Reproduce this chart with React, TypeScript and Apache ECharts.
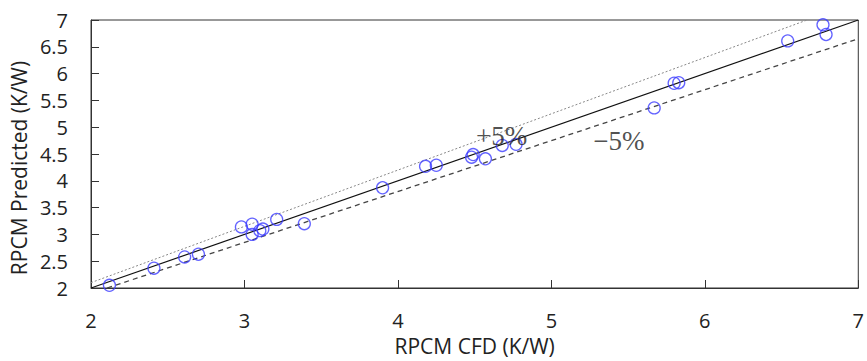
import React, { useEffect, useRef } from "react";
import * as echarts from "echarts";

const cfdValues = [2.12, 2.41, 2.61, 2.70, 2.98, 3.05, 3.05, 3.10, 3.12, 3.21, 3.39, 3.90, 4.18, 4.25, 4.48, 4.49, 4.57, 4.68, 4.77, 5.67, 5.80, 5.83, 6.54, 6.77, 6.79];
const predictedValues = [2.05, 2.37, 2.58, 2.63, 3.14, 3.19, 3.00, 3.07, 3.10, 3.28, 3.20, 3.87, 4.27, 4.29, 4.44, 4.49, 4.41, 4.66, 4.68, 5.36, 5.82, 5.83, 6.61, 6.91, 6.73];
const parityLine = [[2, 2], [7, 7]];
const plusFiveLine = [[2, 2.1], [6.6667, 7]];
const minusFiveLine = [[2.1053, 2], [7, 6.65]];
const annotations = [
  { name: "+5%", value: [4.675, 4.83] },
  { name: "\u22125%", value: [5.44, 4.74] },
];
const xTicks = [2, 3, 4, 5, 6, 7];
const yTicks = [2, 2.5, 3, 3.5, 4, 4.5, 5, 5.5, 6, 6.5, 7];

export default function App() {
  const ref = useRef<HTMLDivElement>(null);
  useEffect(() => {
    if (!ref.current) return;
    const chart = echarts.init(ref.current, null, { renderer: "svg" });
    const font = "'Open Sans', sans-serif";
    chart.setOption({
      animation: false,
      backgroundColor: "#ffffff",
      grid: {
        left: 91,
        top: 20,
        right: 6,
        bottom: 69,
        show: true,
        borderColor: "#333",
        borderWidth: 1,
      },
      xAxis: {
        type: "value",
        min: xTicks[0],
        max: xTicks[xTicks.length - 1],
        interval: 1,
        name: "RPCM CFD (K/W)",
        nameLocation: "middle",
        nameGap: 47,
        nameTextStyle: { fontFamily: font, fontSize: 21, color: "#222" },
        axisLine: { show: true, lineStyle: { color: "#333", width: 1 } },
        axisTick: { show: true, inside: true, length: 8, lineStyle: { color: "#333" } },
        axisLabel: { fontFamily: font, fontSize: 20, color: "#222", margin: 22 },
        splitLine: { show: false },
      },
      yAxis: {
        type: "value",
        min: yTicks[0],
        max: yTicks[yTicks.length - 1],
        interval: 0.5,
        name: "RPCM Predicted (K/W)",
        nameLocation: "middle",
        nameGap: 57,
        nameTextStyle: { fontFamily: font, fontSize: 21, color: "#222", padding: [0, 28, 0, 0] },
        axisLine: { show: true, lineStyle: { color: "#333", width: 1 } },
        axisTick: { show: true, inside: true, length: 8, lineStyle: { color: "#333" } },
        axisLabel: { fontFamily: font, fontSize: 20, color: "#222", margin: 23 },
        splitLine: { show: false },
      },
      series: [
        {
          type: "line",
          data: plusFiveLine,
          symbol: "none",
          lineStyle: { color: "#888", width: 1, type: [2, 2] },
          z: 1,
        },
        {
          type: "line",
          data: minusFiveLine,
          symbol: "none",
          lineStyle: { color: "#444", width: 1.3, type: [5, 4] },
          z: 1,
        },
        {
          type: "line",
          data: parityLine,
          symbol: "none",
          lineStyle: { color: "#111", width: 1.2 },
          z: 1,
        },
        {
          type: "scatter",
          data: cfdValues.map((x, i) => [x, predictedValues[i]]),
          symbol: "circle",
          symbolSize: 12,
          itemStyle: { color: "rgba(0,0,0,0)", borderColor: "#3c3cff", borderWidth: 1.3 },
          z: 3,
        },
        {
          type: "scatter",
          data: annotations,
          symbolSize: 0,
          silent: true,
          label: {
            show: true,
            position: "inside",
            formatter: (p: any) => p.name,
            fontFamily: "'Liberation Serif', serif",
            fontSize: 27,
            color: "#222",
          },
          z: 4,
        },
      ],
    });
    return () => chart.dispose();
  }, []);
  return <div ref={ref} style={{ width: 867, height: 361, position: "absolute", left: 0, top: 0 }} />;
}
